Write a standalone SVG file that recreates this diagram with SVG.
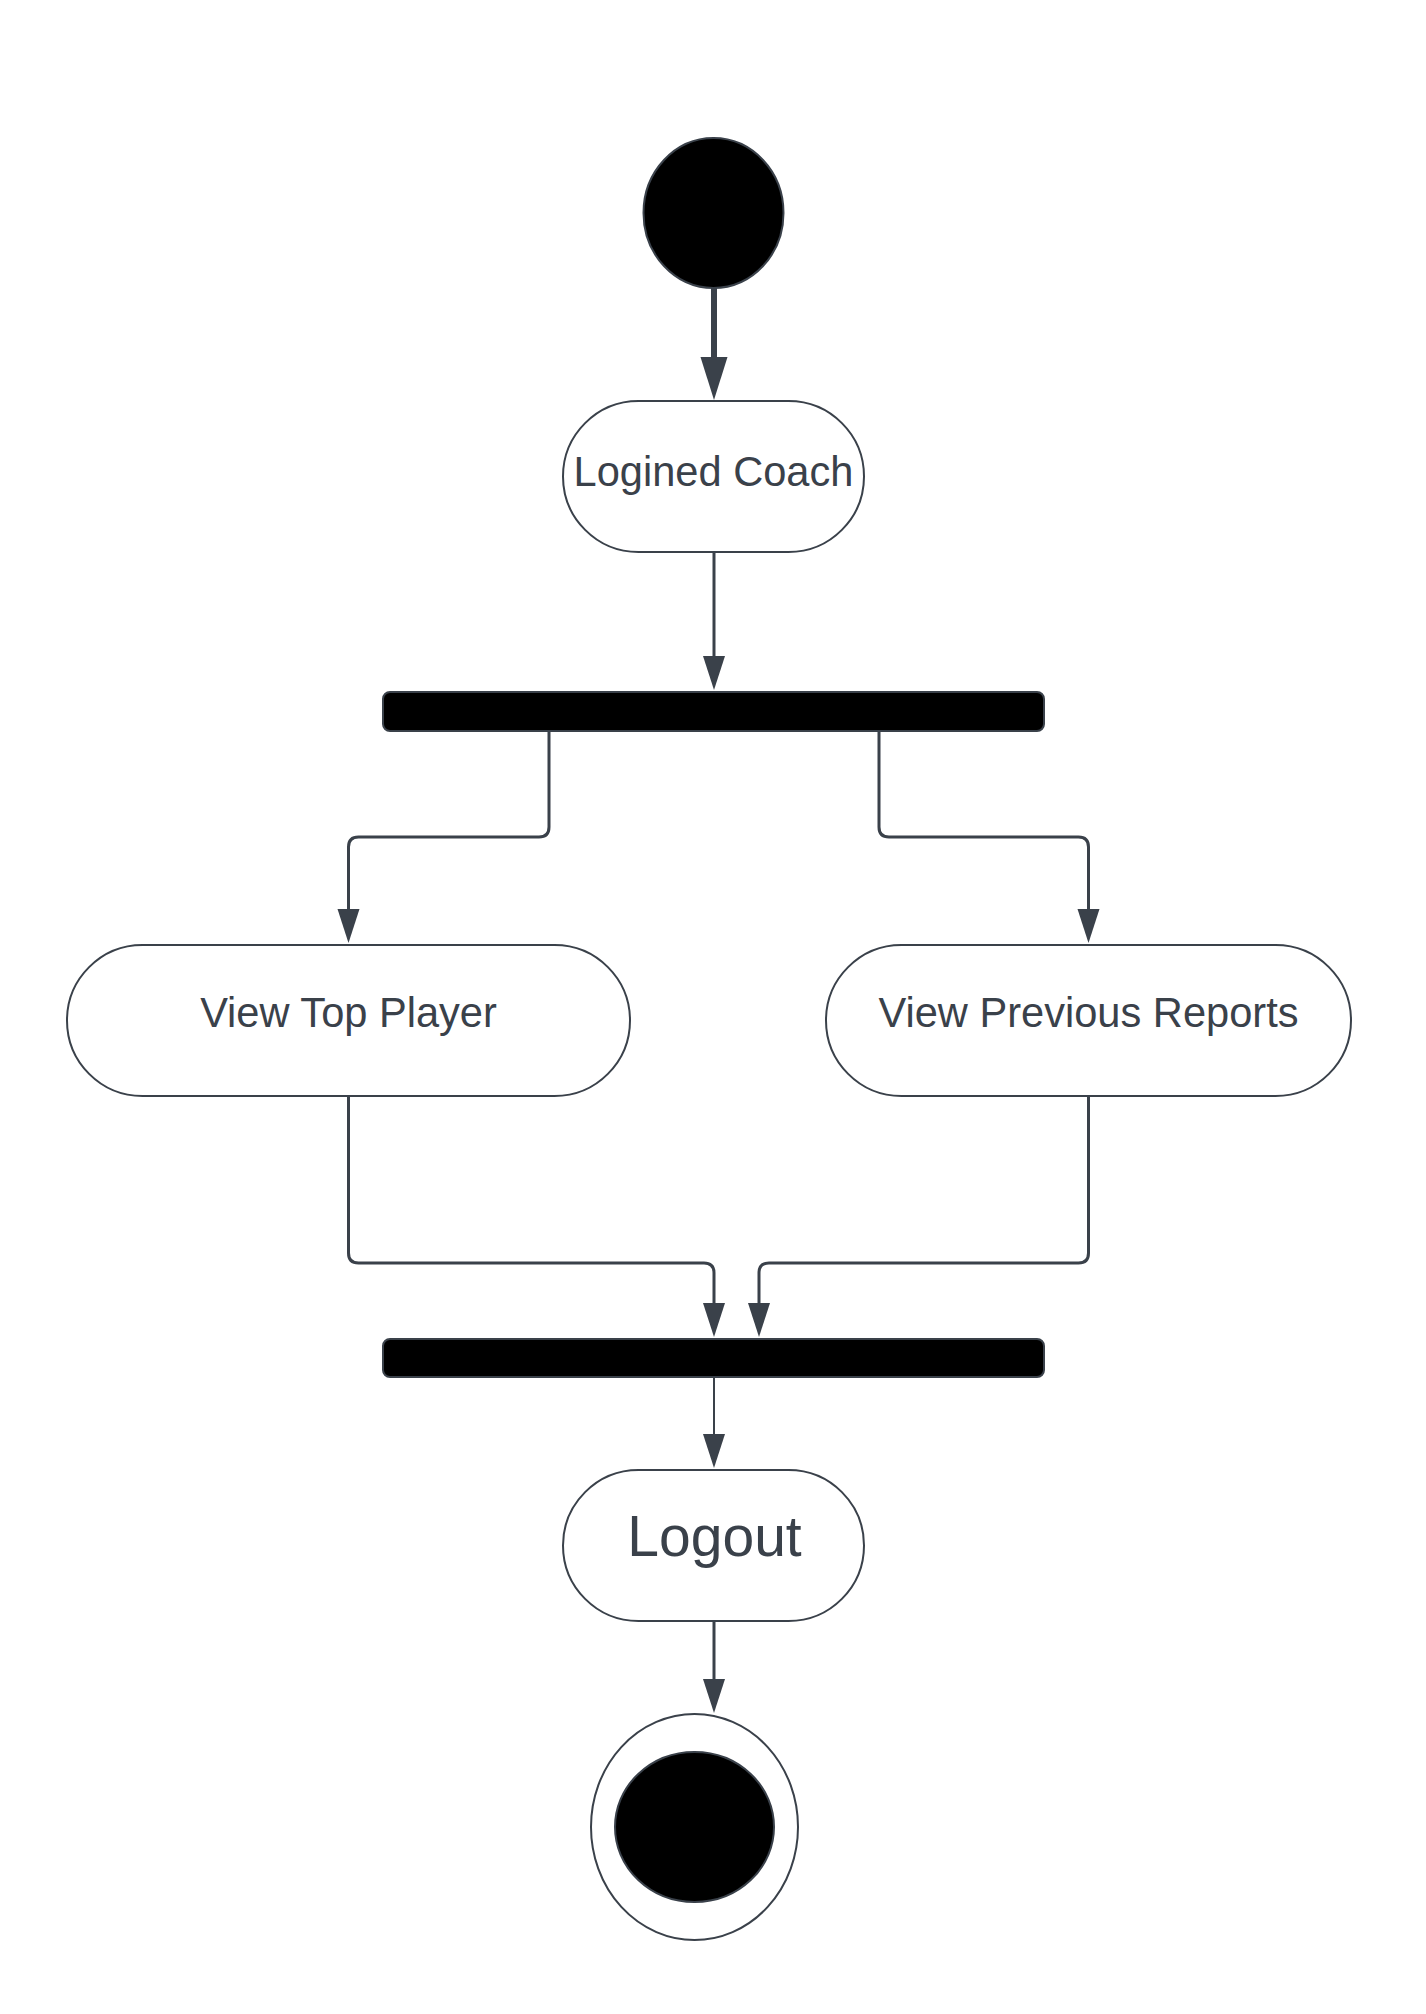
<svg xmlns="http://www.w3.org/2000/svg" width="1426" height="2014" viewBox="0 0 1426 2014">
  <style>
    .node { fill: #ffffff; stroke: #3a414a; stroke-width: 2; }
    .solid { fill: #000000; stroke: #3a414a; stroke-width: 2; }
    .label { font-family: "Liberation Sans", Arial, sans-serif; fill: #3a414a; text-anchor: middle; }
    .conn { fill: none; stroke: #3a414a; stroke-width: 3; marker-end: url(#arr); }
  </style>
  <defs>
    <marker id="arr" markerUnits="userSpaceOnUse" markerWidth="34" markerHeight="22" refX="0" refY="11" orient="auto" overflow="visible">
      <path d="M0,0 L34,11 L0,22 z" fill="#3a414a"/>
    </marker>
    <marker id="arrBig" markerUnits="userSpaceOnUse" markerWidth="43" markerHeight="27" refX="0" refY="13.5" orient="auto" overflow="visible">
      <path d="M0,0 L43,13.5 L0,27 z" fill="#3a414a"/>
    </marker>
  </defs>
  <rect width="1426" height="2014" fill="#ffffff"/>

  <g id="connectors">
    <path d="M714,288 V357" class="conn" style="stroke-width:6; marker-end:url(#arrBig)"/>
    <path d="M714,552 V656" class="conn"/>
    <path d="M549,731 V827 Q549,837 539,837 H358.5 Q348.5,837 348.5,847 V909" class="conn"/>
    <path d="M879,731 V827 Q879,837 889,837 H1078.5 Q1088.5,837 1088.5,847 V909" class="conn"/>
    <path d="M348.5,1096 V1253 Q348.5,1263 358.5,1263 H704 Q714,1263 714,1273 V1303" class="conn"/>
    <path d="M1088.5,1096 V1253 Q1088.5,1263 1078.5,1263 H769 Q759,1263 759,1273 V1303" class="conn"/>
    <path d="M714,1377 V1434" class="conn" style="stroke-width:2"/>
    <path d="M714,1621 V1679" class="conn"/>
  </g>

  <g id="start">
    <ellipse cx="713.5" cy="213" rx="70" ry="75" class="solid"/>
  </g>

  <g id="logined-coach">
    <rect x="563" y="401" width="301" height="151" rx="75.5" class="node"/>
    <text x="713.5" y="486" class="label" font-size="41.6">Logined Coach</text>
  </g>

  <g id="fork">
    <rect x="383" y="692" width="661" height="39" rx="7" class="solid"/>
  </g>

  <g id="view-top-player">
    <rect x="67" y="945" width="563" height="151" rx="75.5" class="node"/>
    <text x="348.5" y="1027" class="label" font-size="41.6">View Top Player</text>
  </g>

  <g id="view-previous-reports">
    <rect x="826" y="945" width="525" height="151" rx="75.5" class="node"/>
    <text x="1088.5" y="1027" class="label" font-size="41.6">View Previous Reports</text>
  </g>

  <g id="join">
    <rect x="383" y="1339" width="661" height="38" rx="7" class="solid"/>
  </g>

  <g id="logout">
    <rect x="563" y="1470" width="301" height="151" rx="75.5" class="node"/>
    <text x="714.5" y="1556" class="label" font-size="57">Logout</text>
  </g>

  <g id="end">
    <ellipse cx="694.5" cy="1827" rx="103.5" ry="113" class="node"/>
    <ellipse cx="694.5" cy="1827" rx="79.5" ry="75" class="solid"/>
  </g>
</svg>
